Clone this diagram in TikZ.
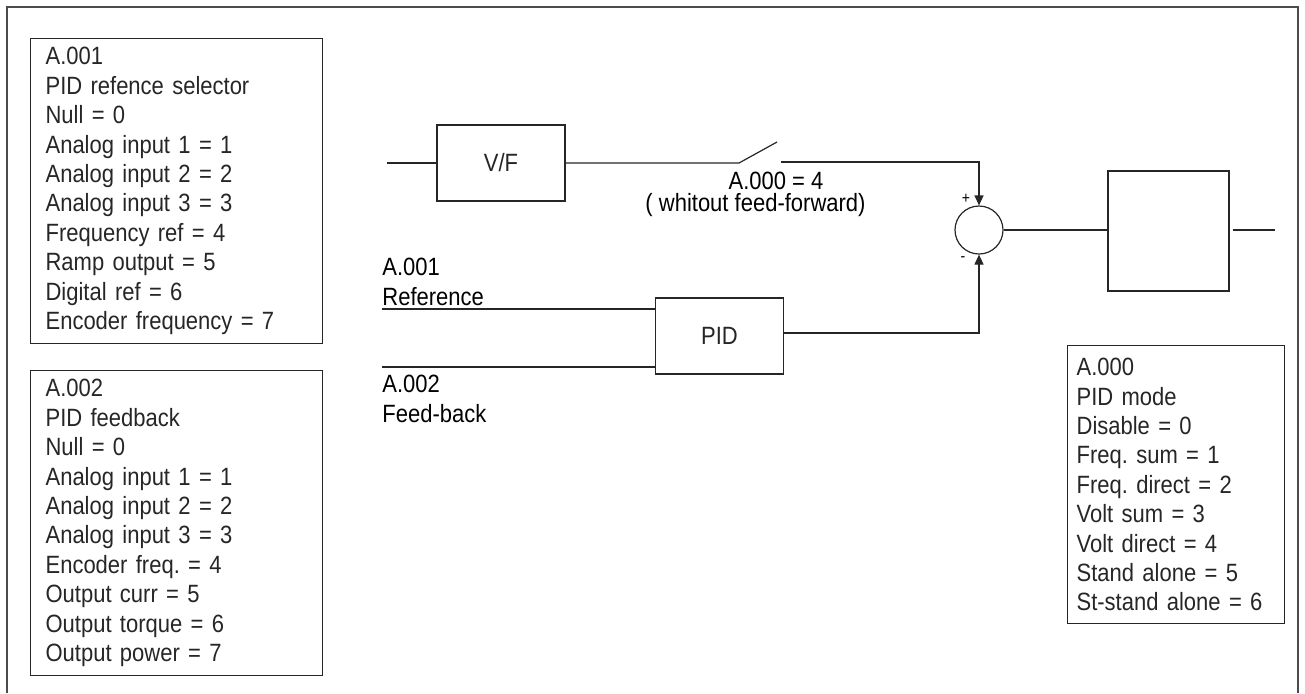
\documentclass[tikz,border=0pt]{standalone}
\usepackage{fontspec}
\setmainfont{Liberation Sans}[FakeStretch=0.88]
\usepackage{tikz}
\usetikzlibrary{arrows.meta,positioning,calc}
\frenchspacing

\begin{document}
\begin{tikzpicture}[x=0.5pt,y=-0.5pt,
  every node/.style={font=\fontsize{12.5}{14.7}\selectfont},
  wire/.style={line width=0.6pt,black!85},
  sig/.style={wire,-{Triangle[length=5pt,width=4.5pt]}},
  parbox/.style={draw,wire,anchor=north west,align=left,inner xsep=7.5pt,inner ysep=0pt},
  blockbox/.style={draw,wire,minimum width=64pt,minimum height=38pt}]
  \useasboundingbox (0,0) rectangle (1305,693);
  % outer frame (open at the bottom)
  \draw[wire,black!70] (7,693) -- (7,7) -- (1298,7) -- (1298,693);
  % parameter lists
  \node[parbox,text width=131pt,minimum height=152.5pt] (selref) at (30,38)
    {A.001\\PID refence selector\\Null = 0\\Analog input 1 = 1\\Analog input 2 = 2\\Analog input 3 = 3\\Frequency ref = 4\\Ramp output = 5\\Digital ref = 6\\Encoder frequency = 7};
  \node[parbox,text width=131pt,minimum height=152.5pt] (selfb) at (30,370)
    {A.002\\PID feedback\\Null = 0\\Analog input 1 = 1\\Analog input 2 = 2\\Analog input 3 = 3\\Encoder freq. = 4\\Output curr = 5\\Output torque = 6\\Output power = 7};
  \node[parbox,inner xsep=4.5pt,text width=99.5pt,minimum height=139pt] (mode) at (1067,345)
    {A.000\\PID mode\\Disable = 0\\Freq. sum = 1\\Freq. direct = 2\\Volt sum = 3\\Volt direct = 4\\Stand alone = 5\\St-stand alone = 6};
  % blocks
  \node[blockbox] (vf) at (501,163) {V/F};
  \node[blockbox] (pid) at (719.5,336) {PID};
  \node[draw,wire,circle,minimum size=24pt,inner sep=0pt] (sum) at (979,230) {};
  \node[draw,wire,minimum width=60.5pt,minimum height=60pt] (out) at (1168.5,231) {};
  % feed-forward branch with switch
  \coordinate (vfin) at (387,163);
  \coordinate (swa) at (739,163);
  \coordinate (swb) at (777,142);
  \coordinate (swc) at (781,162);
  \draw[wire] (vfin) -- (vf);
  \draw[wire] (vf.east |- swa) -- (swa) -- (swb);
  \draw[sig] (swc) -| (sum);
  \node[anchor=base,inner sep=0pt] (swlbl) at (776,189) {A.000 = 4};
  \node[anchor=base,inner sep=0pt] (swnote) at (755.5,211) {( whitout feed-forward)};
  % PID inputs
  \foreach \y/\name in {309/refin, 367/fbin}{
    \coordinate (\name) at (382,\y);
    \draw[wire] (\name) -- (\name -| pid.west);
  }
  \node[anchor=north west,align=left,inner sep=0pt] (reflbl) at (382,258) {A.001\\Reference};
  \node[anchor=north west,align=left,inner sep=0pt] (fblbl) at (382,375) {A.002\\Feed-back};
  % PID output to summing point
  \draw[sig] ($(pid.east)+(0,-3)$) -| (sum);
  \node[font=\fontsize{8}{9}\selectfont,inner sep=0pt] (plus) at (966,199) {+};
  \node[font=\fontsize{8}{9}\selectfont,inner sep=0pt] (minus) at (963,259) {-};
  % output stage
  \coordinate (outend) at (1275,230);
  \draw[wire] (sum) -- (sum -| out.west);
  \draw[wire] ($(out.east)+(3,-1)$) -- (outend);
\end{tikzpicture}
\end{document}
